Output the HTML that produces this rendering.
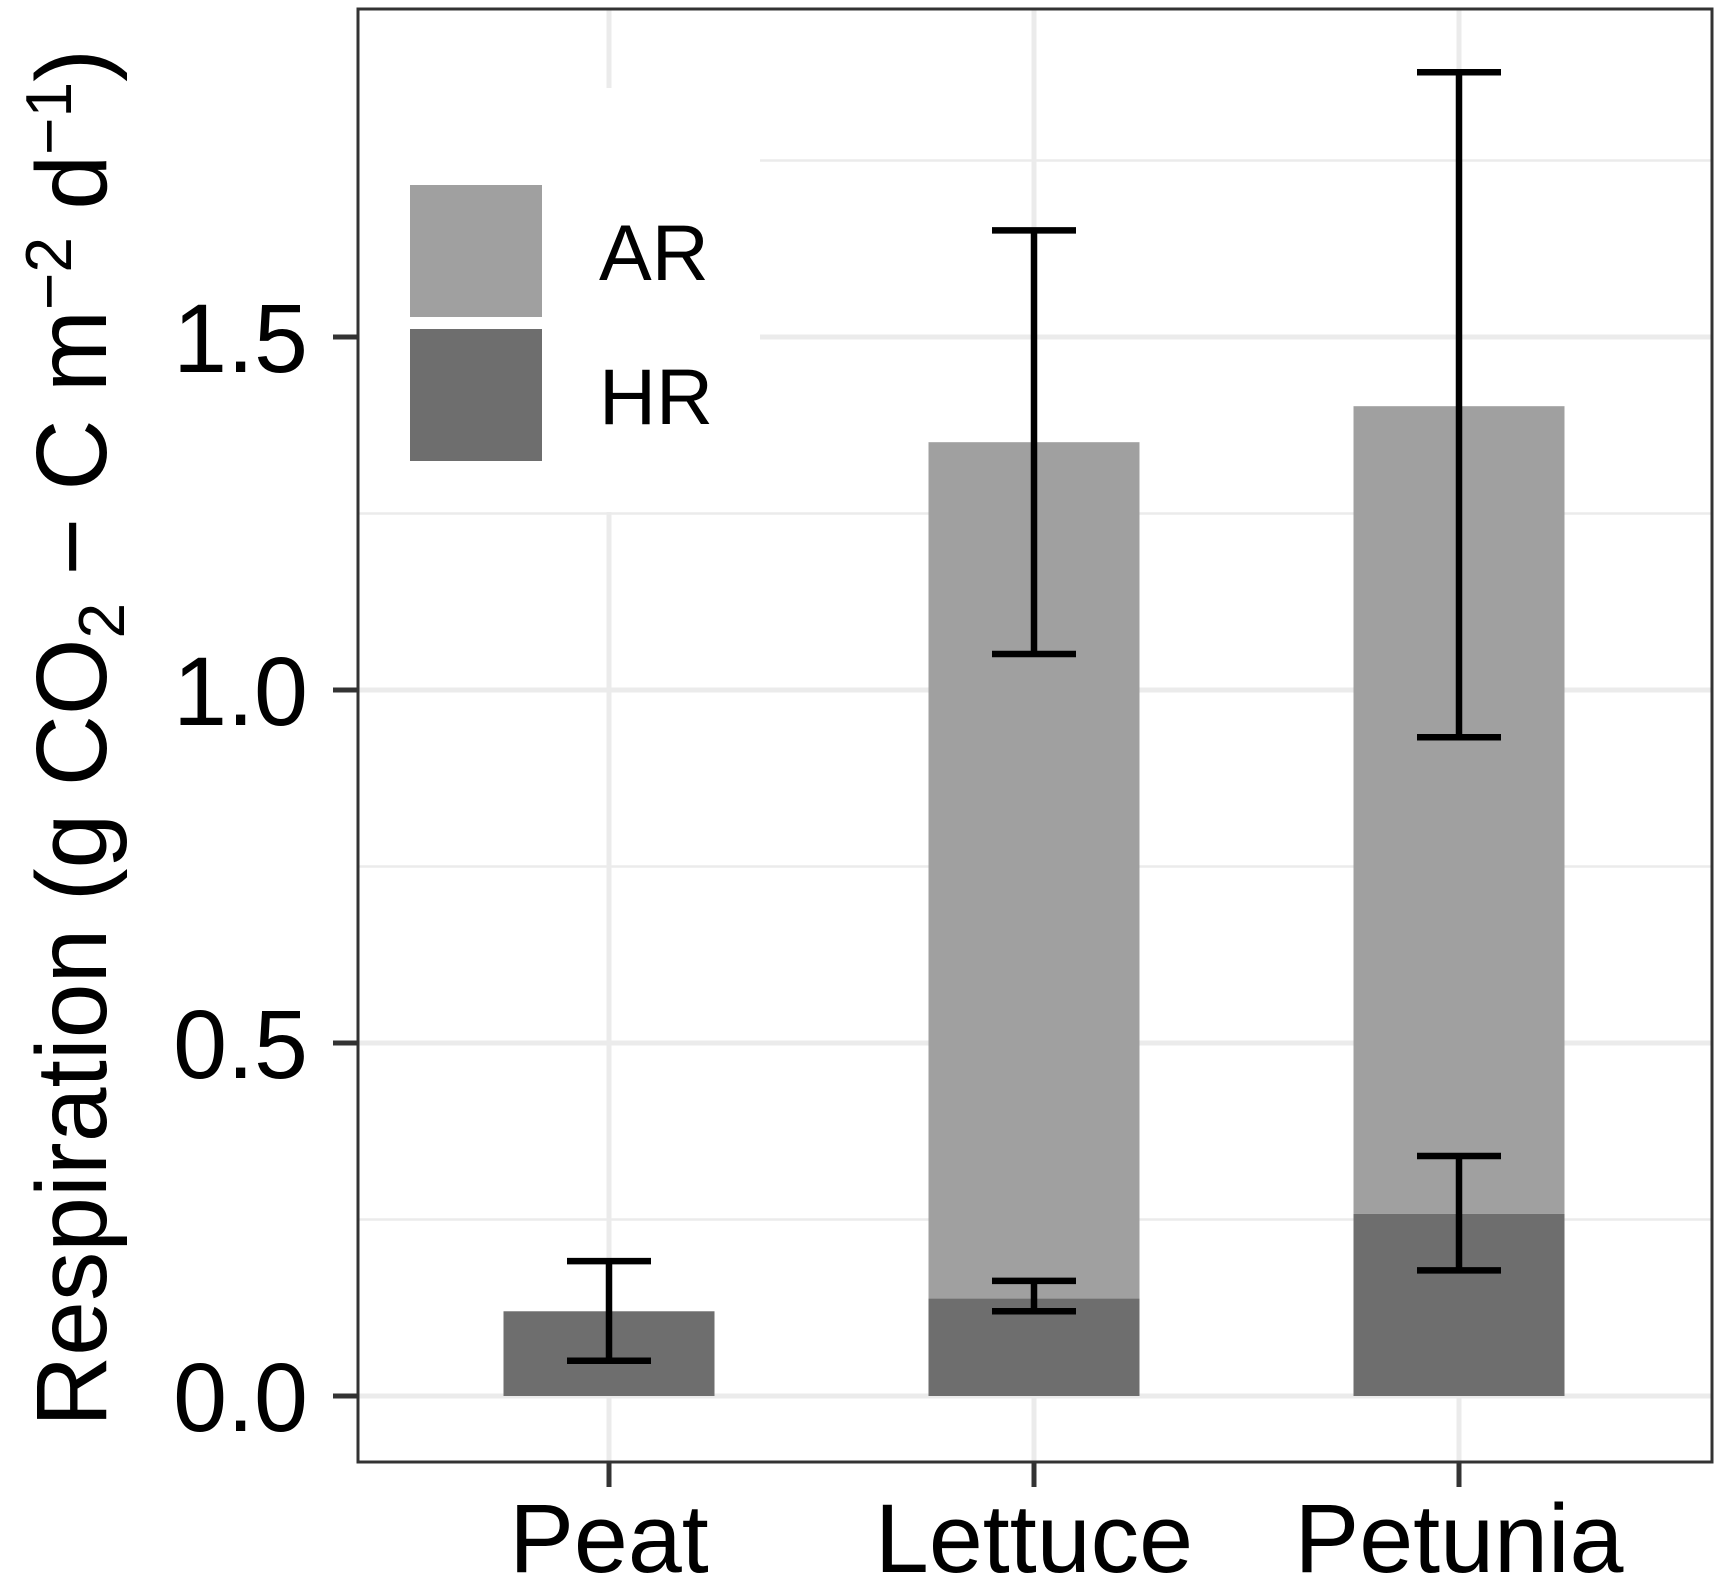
<!DOCTYPE html>
<html><head><meta charset="utf-8"><style>
html,body{margin:0;padding:0;background:#fff;}
svg{display:block;font-family:"Liberation Sans",Arial,sans-serif;}
</style></head><body>
<svg id="chart" width="1721" height="1585" viewBox="0 0 1721 1585">
<rect x="0" y="0" width="1721" height="1585" fill="#fff"/>
<g id="grid"></g>
<g id="bars"></g>
<g id="legend">
<rect x="358" y="88" width="402" height="424" fill="#fff"/>
<rect x="410" y="185" width="132" height="132" fill="#a0a0a0"/>
<rect x="410" y="329" width="132" height="132" fill="#6e6e6e"/>
<text x="599" y="280" font-size="79" fill="#000">AR</text>
<text x="599" y="424" font-size="79" fill="#000">HR</text>
</g>
<g id="errs"></g>
<rect x="358" y="9" width="1354" height="1453" fill="none" stroke="#333" stroke-width="3"/>
<g id="axes"></g>
<text transform="translate(106,738) rotate(-90)" text-anchor="middle" font-size="100" fill="#000" textLength="1378" lengthAdjust="spacingAndGlyphs">Respiration (g CO<tspan font-size="65" dy="18">2</tspan><tspan dy="-18"> − C m</tspan><tspan font-size="65" dy="-35">−2</tspan><tspan dy="35"> d</tspan><tspan font-size="65" dy="-35">−1</tspan><tspan dy="35">)</tspan></text>
</svg>
<script>
const categories = ["Peat", "Lettuce", "Petunia"];
const hrValues = [0.12, 0.138, 0.258];
const hrErrLow = [0.05, 0.12, 0.178];
const hrErrHigh = [0.191, 0.163, 0.34];
const totalValues = [null, 1.351, 1.402];
const arErrLow = [null, 1.051, 0.933];
const arErrHigh = [null, 1.651, 1.875];
const yTicks = [0, 0.5, 1.0, 1.5];
const yTickLabels = ["0.0", "0.5", "1.0", "1.5"];
const yMinor = [0.25, 0.75, 1.25, 1.75];

const NS = "http://www.w3.org/2000/svg";
const y = v => 1396 - v * 706;
const x = i => 609 + i * 425;
const barHalf = 105.5, capHalf = 42;
function mk(tag, attrs, parent) {
  const e = document.createElementNS(NS, tag);
  for (const k in attrs) e.setAttribute(k, attrs[k]);
  parent.appendChild(e);
  return e;
}
const grid = document.getElementById('grid');
yMinor.forEach(v => {
  const l = mk('line', {x1: 358, x2: 1712, y1: y(v), y2: y(v), stroke: '#ebebeb', 'stroke-width': 2.5}, grid);
  
  
});
yTicks.forEach(v => {
  const l = mk('line', {x1: 358, x2: 1712, y1: y(v), y2: y(v), stroke: '#ebebeb', 'stroke-width': 5}, grid);
  
  
});
categories.forEach((c, i) => {
  const l = mk('line', {x1: x(i), x2: x(i), y1: 9, y2: 1462, stroke: '#ebebeb', 'stroke-width': 5}, grid);
  
  
});
const bars = document.getElementById('bars');
const errs = document.getElementById('errs');
function errbar(i, lo, hi, name) {
  const g = mk('g', {stroke: '#000', 'stroke-width': 6.5, fill: 'none'}, errs);
  
  
  mk('line', {x1: x(i), x2: x(i), y1: y(lo), y2: y(hi)}, g);
  mk('line', {x1: x(i) - capHalf, x2: x(i) + capHalf, y1: y(lo), y2: y(lo)}, g);
  mk('line', {x1: x(i) - capHalf, x2: x(i) + capHalf, y1: y(hi), y2: y(hi)}, g);
}
categories.forEach((c, i) => {
  if (totalValues[i] !== null) {
    const r = mk('rect', {x: x(i) - barHalf, width: 2 * barHalf, y: y(totalValues[i]), height: y(hrValues[i]) - y(totalValues[i]), fill: '#a0a0a0'}, bars);
    
    
    errbar(i, arErrLow[i], arErrHigh[i], 'error-bar-ar-' + c.toLowerCase());
  }
  const h = mk('rect', {x: x(i) - barHalf, width: 2 * barHalf, y: y(hrValues[i]), height: y(0) - y(hrValues[i]), fill: '#6e6e6e'}, bars);
  
  
  errbar(i, hrErrLow[i], hrErrHigh[i], 'error-bar-hr-' + c.toLowerCase());
});
const axes = document.getElementById('axes');
yTicks.forEach((v, k) => {
  const t = mk('line', {x1: 333, x2: 358, y1: y(v), y2: y(v), stroke: '#333', 'stroke-width': 5}, axes);
  
  
  const tx = mk('text', {x: 308, y: y(v) + 35, 'text-anchor': 'end', 'font-size': 97, fill: '#000'}, axes);
  tx.textContent = yTickLabels[k];
  
  
});
categories.forEach((c, i) => {
  const t = mk('line', {x1: x(i), x2: x(i), y1: 1462, y2: 1487, stroke: '#333', 'stroke-width': 5}, axes);
  
  
  const tx = mk('text', {x: x(i), y: 1572, 'text-anchor': 'middle', 'font-size': 97, fill: '#000'}, axes);
  tx.textContent = c;
  
  
});
</script>
</body></html>
